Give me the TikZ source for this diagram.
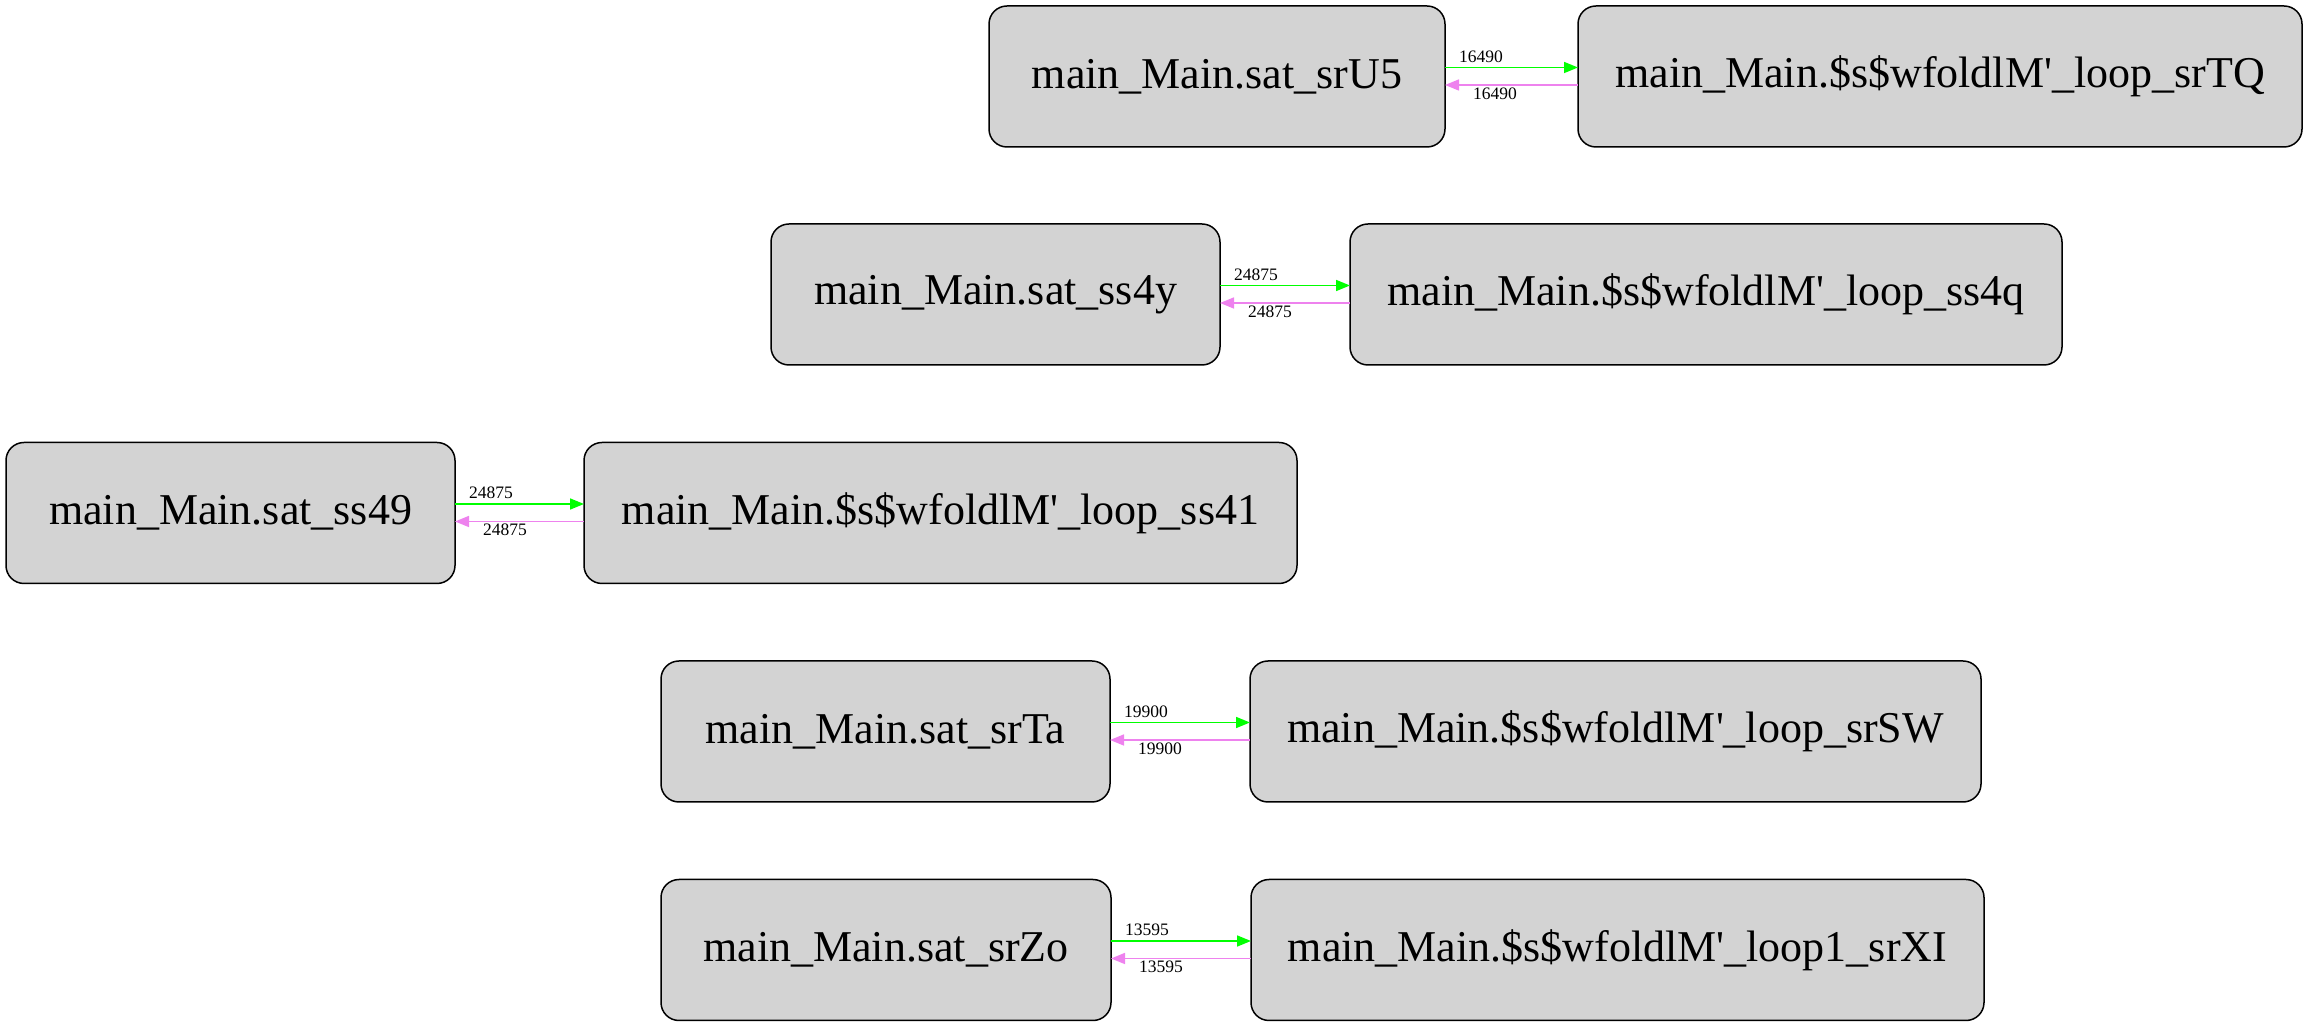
\documentclass[tikz,border=0pt]{standalone}
\usepackage{fontspec}
\setmainfont{Liberation Serif}
\usetikzlibrary{arrows.meta}
\definecolor{boxfill}{HTML}{D3D3D3}
\definecolor{fwdcol}{HTML}{00FF00}
\definecolor{bwdcol}{HTML}{EE82EE}
\tikzset{
  box/.style={draw=black, line width=1.5pt, fill=boxfill, rounded corners=18pt,
    minimum height=141pt, inner sep=0pt, outer sep=0pt,
    font=\fontsize{44}{50}\selectfont},
  fwd/.style={draw=fwdcol, line width=1.6pt, -{Triangle[length=14pt,width=11pt]}},
  bwd/.style={draw=bwdcol, line width=1.6pt, -{Triangle[length=14pt,width=11pt]}},
  lbl/.style={font=\fontsize{17.5}{20}\selectfont, inner sep=0pt}
}
\newcommand\q{\textquotesingle}
\newcommand\pairedges[3]{%
  \draw[fwd] ([yshift=9pt]#1.east) -- ([yshift=9pt]#2.west);
  \draw[bwd] ([yshift=-8.5pt]#2.west) -- ([yshift=-8.5pt]#1.east);
  \node[lbl] (#1g) at ([xshift=36pt,yshift=20pt]#1.east) {#3};
  \node[lbl] (#1p) at ([xshift=50pt,yshift=-17pt]#1.east) {#3};
}
\begin{document}
\begin{tikzpicture}[x=1pt,y=1pt]
\useasboundingbox (0,0) rectangle (2308,1028);
% row 1
\node[box, minimum width=456pt] (a1) at (1217,951.5) {main\_Main.sat\_srU5};
\node[box, minimum width=724pt] (b1) at (1940,951.5) {main\_Main.\$s\$wfoldlM\q\_loop\_srTQ};
% row 2
\node[box, minimum width=449pt] (a2) at (995.5,733.5) {main\_Main.sat\_ss4y};
\node[box, minimum width=712pt] (b2) at (1706,733.5) {main\_Main.\$s\$wfoldlM\q\_loop\_ss4q};
% row 3
\node[box, minimum width=449pt] (a3) at (230.5,515) {main\_Main.sat\_ss49};
\node[box, minimum width=713pt] (b3) at (940.5,515) {main\_Main.\$s\$wfoldlM\q\_loop\_ss41};
% row 4
\node[box, minimum width=449pt] (a4) at (885.5,296.5) {main\_Main.sat\_srTa};
\node[box, minimum width=731pt] (b4) at (1615.5,296.5) {main\_Main.\$s\$wfoldlM\q\_loop\_srSW};
% row 5
\node[box, minimum width=450pt] (a5) at (886,78) {main\_Main.sat\_srZo};
\node[box, minimum width=733pt] (b5) at (1617.5,78) {main\_Main.\$s\$wfoldlM\q\_loop1\_srXI};
\pairedges{a1}{b1}{16490}
\pairedges{a2}{b2}{24875}
\pairedges{a3}{b3}{24875}
\pairedges{a4}{b4}{19900}
\pairedges{a5}{b5}{13595}
\end{tikzpicture}
\end{document}
